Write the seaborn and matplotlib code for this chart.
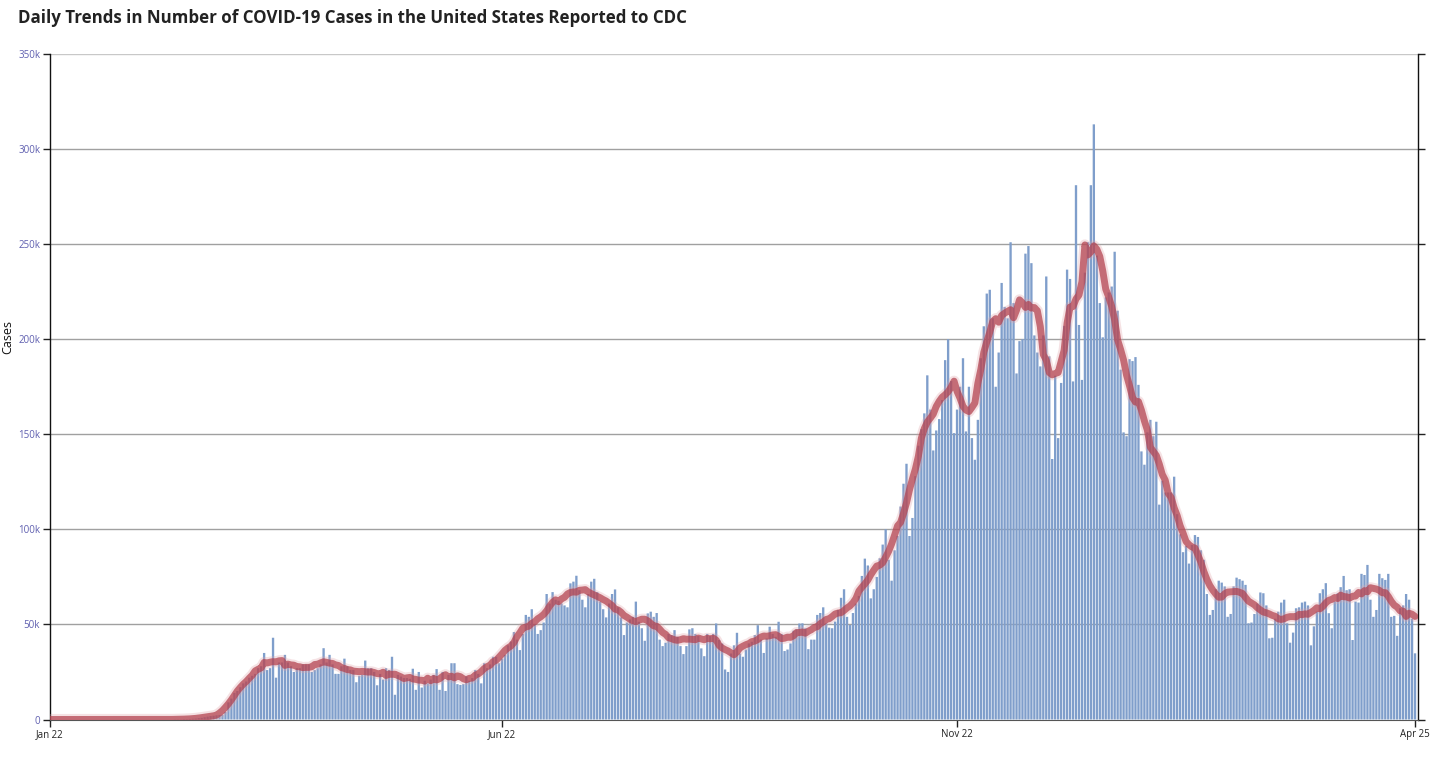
import numpy as np
import pandas as pd
import matplotlib
matplotlib.use("Agg")
import matplotlib.pyplot as plt
import seaborn as sns

# daily reported cases, in thousands, one value per day from 2020-01-22 to 2021-04-25
jan_mar = [
    0, 0, 0, 0, 0, 0, 0, 0, 0, 0,
    0, 0, 0, 0, 0, 0, 0, 0, 0, 0,
    0, 0, 0, 0, 0, 0, 0, 0, 0, 0,
    0, 0, 0, 0, 0, 0, 0, 0, 0, 0,
    0.0, 0.0, 0.1, 0.1, 0.1, 0.2, 0.2, 0.3, 0.4, 0.5,
    0.7, 0.9, 1.2, 1.5, 1.8, 2.0, 2.2, 2.4,
]
spring = [
    2.5, 4, 9, 11, 14, 15, 17, 19, 20, 22,
    23, 24, 27, 28, 35, 26, 27, 43, 22, 30,
    30, 34, 30, 28, 25, 27, 27, 29, 29, 29,
    25, 26, 27, 29, 37.5, 30, 34, 29, 24, 24,
    28, 32, 28,
]
may_jun = [
    26, 26, 19.6, 23, 23.5, 31, 27, 27, 25, 18,
    24, 21, 27, 26, 33, 13, 23.5, 22.6, 21.8, 21.8,
    21.4, 26.7, 15.6, 25, 16.8, 20.4, 19, 21, 23.5, 26.5,
    15.6, 25, 15, 23.5, 29.6, 29.6, 18.6, 18.2, 18.6, 22.6,
    20.4, 21.8, 26, 24, 19, 29.6, 27, 29, 33, 33,
    29.6, 32, 34, 39,
]
summer = [
    41, 46, 42, 36.5, 45, 55, 54, 58, 50, 45,
    47, 51, 66, 61, 67, 63, 62.5, 61, 60, 59,
    71.6, 72.5, 75.6, 68, 63, 59, 66, 72.5, 74, 67,
    62, 58, 53.7, 61, 66, 68.4, 59, 53.7, 44.4, 51,
    52.6, 54, 62, 51.4, 48, 41.4,
]
aug_sep = [
    55.8, 56.7, 54, 56, 42, 38.6, 40.4, 45, 44.4, 47,
    43.5, 38.6, 34.4, 38.6, 47.4, 48, 45, 43.9, 37.4, 33.3,
    45, 43.9, 45, 50.5, 41.8, 40, 26.3, 25, 34.7, 39,
    45.6, 34.7, 33, 36.8, 40, 40.9, 44.4, 49.6, 42, 35,
    42.6, 48.8, 45, 43.5, 51.4, 45, 36, 36.8, 40, 46.7,
    47.4, 50.5,
]
oct_nov = [
    50.6, 48, 37, 42, 42, 55, 56, 59, 50.6, 48.3,
    48, 51.5, 57.6, 64, 68.5, 54, 49.7, 56, 61, 65,
    75.5, 84.6, 81, 63.7, 68.5, 75, 84.8, 92, 100, 84,
    73, 89, 96.5, 112, 124, 134.5, 96.5, 106, 128, 144,
    152.7, 161, 181, 163, 141.5, 152, 158, 168, 189, 200,
    178, 150.6, 163,
]
nov_dec = [
    175, 190, 151.5, 175, 148, 136.6, 157.6, 190, 206.8, 224,
    226, 211, 175, 193, 229.6, 217, 211, 251, 219, 182,
    199, 200, 245, 249, 240, 202, 193, 185.7, 202, 233,
    191, 137, 180.8, 148, 177, 207, 236.6, 231.7, 177.8, 281,
]
jan_feb = [
    207.5, 178.6, 235, 251, 281, 313, 244, 219, 201, 222,
    224.6, 227.7, 246, 215, 184, 151, 149, 189.5, 188.5, 190.6,
    176, 141, 134, 151, 157.6, 149, 156.6, 113, 125.6, 119.4,
    119.4, 119.4, 127.7, 108, 97.4, 88,
]
feb_apr = [
    91.3, 82, 91.8, 97, 96, 89, 84, 66, 55, 57.6,
    68.5, 73, 72, 70, 54, 55.5, 70, 74.6, 73.8, 73,
    70.8, 50.6, 51, 55.5, 61, 66.8, 66.4, 60, 42.7, 43,
    53, 56.7, 61.5, 63, 50.6, 40.4, 45.7, 58.5, 59, 61.5,
    62, 60, 39, 49, 56.7, 66.4, 68.5, 71.7, 55.9, 48,
    62, 66.4, 69.6, 75.5, 68, 68.5, 41.8, 62, 61.5, 76.6,
    76, 81.3, 63, 54, 57.6, 76.6, 74.3, 73.4, 76.6, 54,
    54.5, 44, 58.5, 60, 66, 63, 53, 34.8,
]

cases_k = jan_mar + spring + may_jun + summer + aug_sep + oct_nov + nov_dec + jan_feb + feb_apr
tick_dates = ["2020-01-22", "2020-06-22", "2020-11-22", "2021-04-25"]
tick_labels = ["Jan 22", "Jun 22", "Nov 22", "Apr 25"]
y_labels = ["0", "50k", "100k", "150k", "200k", "250k", "300k", "350k"]

df = pd.DataFrame({"cases": np.array(cases_k) * 1000})
df["date"] = pd.date_range("2020-01-22", periods=len(df), freq="D")
df["day"] = np.arange(len(df))
# 7 day moving average of the daily counts
df["avg7"] = df["cases"].rolling(7, center=True, min_periods=1).mean()

sns.set_style("white")
plt.rcParams["font.family"] = ["Open Sans", "DejaVu Sans"]

fig = plt.figure(figsize=(14.42, 7.63), dpi=100)
ax = fig.add_axes([50 / 1442, 1 - 719.5 / 763, 1368 / 1442, 665.5 / 763])

for v in range(50000, 350001, 50000):
    ax.axhline(v, color="#a0a0a0" if v < 350000 else "#c8c8c8", lw=1, zorder=0)

sns.barplot(data=df, x="day", y="cases", native_scale=True, width=0.78,
            color="#7f9ecb", saturation=1, errorbar=None, ax=ax, zorder=2)
for p in ax.patches:
    p.set_linewidth(0)
    p.set_edgecolor("none")
    p.set_snap(False)

sns.lineplot(data=df, x="day", y="avg7", color="#e0a0a6", lw=8, alpha=0.3, ax=ax, zorder=3)
sns.lineplot(data=df, x="day", y="avg7", color="#b23f4c", lw=5, alpha=0.72, ax=ax, zorder=4)

ax.set_xlim(0, len(df))
ax.set_ylim(0, 350000)
ax.set_yticks(range(0, 350001, 50000))
ax.set_yticklabels(y_labels, color="#6060b0", fontsize=7)

tick_pos = [df.index[df["date"] == pd.Timestamp(d)][0] for d in tick_dates]
ax.set_xticks(tick_pos)
ax.set_xticklabels(tick_labels, fontsize=7, color="#222222")
ax.set_xlabel("")
ax.set_ylabel("")

ax.tick_params(axis="both", direction="out", length=5, width=1, color="#222222", pad=2)
ax.tick_params(axis="y", right=True, left=True)
ax.tick_params(axis="x", bottom=True)
for side in ["left", "right"]:
    ax.spines[side].set_color("#111111")
    ax.spines[side].set_linewidth(1)
ax.spines["top"].set_visible(False)
ax.spines["bottom"].set_color("#555555")

fig.text(8 / 1442, 1 - 337 / 763, "Cases", rotation=90, va="center", ha="center",
         fontsize=9, color="#111111")
fig.text(18 / 1442, 1 - 18 / 763,
         "Daily Trends in Number of COVID-19 Cases in the United States Reported to CDC",
         ha="left", va="center", fontsize=12.2, fontweight="bold", color="#222222")

fig.savefig("out.png", dpi=100)
